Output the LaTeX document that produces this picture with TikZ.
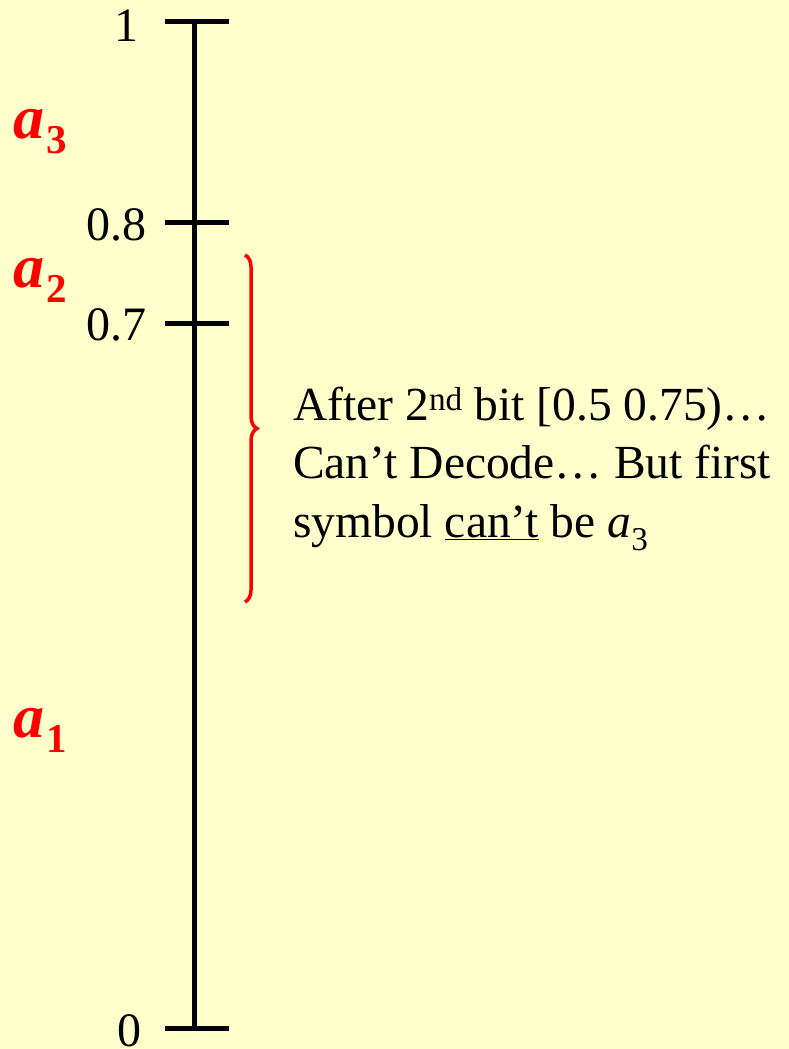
\documentclass[tikz,border=0pt]{standalone}
\usepackage{fontspec}
\setmainfont{Liberation Serif}
\usetikzlibrary{decorations.pathreplacing}
\definecolor{bgyellow}{HTML}{FFFFCC}
\definecolor{symred}{HTML}{FF0000}
\newcommand{\symsub}[1]{\kern2pt\raisebox{-15pt}{\upshape\bfseries\fontsize{41}{44}\selectfont #1}}
\begin{document}
\begin{tikzpicture}[x=1pt,y=-1pt,
  axisline/.style={line width=5pt,black},
  ticklabel/.style={anchor=base east,inner sep=0pt,font=\fontsize{48}{50}\selectfont},
  symlabel/.style={anchor=base west,inner sep=0pt,text=symred,font=\fontsize{62}{64}\selectfont\bfseries\itshape},
  notetext/.style={anchor=base west,inner sep=0pt,font=\fontsize{47.5}{58}\selectfont},
  bracestyle/.style={draw=symred,line width=3.5pt,decorate,decoration={brace,amplitude=12pt}}]
\fill[bgyellow] (0,0) rectangle (789,1049);
\useasboundingbox (0,0) rectangle (789,1049);
% axis
\coordinate (top) at (194,22);
\coordinate (bot) at (194,1028);
\draw[axisline] (top) -- (bot);
\coordinate (t1a) at (165,22);   \coordinate (t1b) at (229,22);
\coordinate (t8a) at (165,222);  \coordinate (t8b) at (229,222);
\coordinate (t7a) at (165,323);  \coordinate (t7b) at (229,323);
\coordinate (t0a) at (165,1028); \coordinate (t0b) at (229,1028);
\draw[axisline] (t1a) -- (t1b);
\draw[axisline] (t8a) -- (t8b);
\draw[axisline] (t7a) -- (t7b);
\draw[axisline] (t0a) -- (t0b);
% tick labels
\node[ticklabel] (l1) at (139,42) {1};
\node[ticklabel] (l8) at (147,240) {0.8};
\node[ticklabel] (l7) at (147,340) {0.7};
\node[ticklabel] (l0) at (142,1046) {0};
% symbol labels
\node[symlabel] (a3) at (13,138) {a\symsub{3}};
\node[symlabel] (a2) at (13,287) {a\symsub{2}};
\node[symlabel] (a1) at (13,737) {a\symsub{1}};
% brace
\coordinate (bt) at (245,255);
\coordinate (bb) at (245,602);
\draw[bracestyle] (bt) -- (bb);
% note
\node[notetext] (n1) at (293,420) {After 2\textsuperscript{nd} bit [0.5 0.75)…};
\node[notetext] (n2) at (293,478) {Can’t Decode… But first};
\node[notetext] (n3) at (293,537) {symbol \underline{can’t} be \textit{a}\textsubscript{3}};
\end{tikzpicture}
\end{document}
